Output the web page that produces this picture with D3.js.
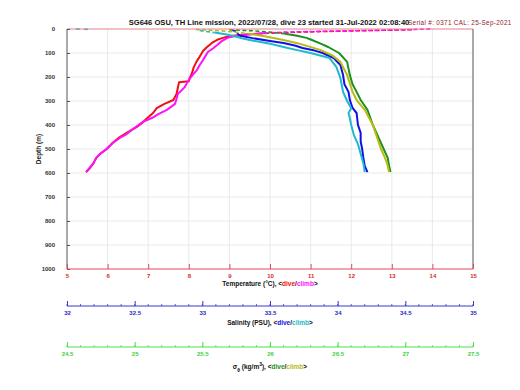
<!DOCTYPE html>
<html><head><meta charset="utf-8">
<script src="https://cdn.jsdelivr.net/npm/d3@7"></script>
<style>body{margin:0;background:#fff}svg{display:block}text{font-family:"Liberation Sans",Arial,sans-serif}</style>
</head><body><svg id="c" width="520" height="390"></svg>
<script>
// ---- data ----
const titleText = "SG646 OSU, TH Line mission, 2022/07/28, dive 23 started 31-Jul-2022 02:08:40";
const serialText = "Serial #: 0371  CAL: 25-Sep-2021";
const depthTicks = [0,100,200,300,400,500,600,700,800,900,1000];
const tempTicks = [5,6,7,8,9,10,11,12,13,14,15];
const salTicks = [32,32.5,33,33.5,34,34.5,35];
const sigTicks = [24.5,25,25.5,26,26.5,27,27.5];

const tempDiveDepth = [3,6,10,14,19,24,29,34,39,45,58,75,92,115,133,160,183,205,218,222,245,270,296,312,330,350,368,390,408,430,454,475,500,520,537,560,580,596];
const tempDive = [13.5,12.6,11.4,10.5,9.8,9.3,9.05,8.9,8.8,8.7,8.57,8.45,8.35,8.27,8.2,8.12,8.08,8.02,8.0,7.76,7.73,7.7,7.62,7.4,7.21,7.12,7.0,6.86,6.72,6.5,6.27,6.12,5.98,5.82,5.72,5.65,5.56,5.47];
const tempClimbDepth = [0,3,5,7,9,11,13,17,22,28,34,40,52,67,80,96,115,129,150,171,190,212,242,271,290,312,337,355,371,387,405,420,440,454,475,500,520,537,560,580,596];
const tempClimb = [13.95,13.3,12.8,12.2,11.55,10.9,10.3,9.9,9.5,9.2,9.0,8.92,8.8,8.7,8.6,8.47,8.4,8.35,8.27,8.2,8.1,8.0,7.9,7.73,7.7,7.66,7.46,7.25,7.09,6.87,6.72,6.6,6.45,6.3,6.13,5.97,5.82,5.72,5.65,5.55,5.47];

const salDiveDepth = [5,12,20,28,38,50,58,70,79,90,100,121,150,192,230,262,296,329,350,400,433,470,496,537,570,596];
const salDive = [33.22,33.26,33.26,33.28,33.37,33.50,33.60,33.69,33.74,33.83,33.89,33.97,34.02,34.04,34.05,34.08,34.09,34.11,34.14,34.15,34.17,34.17,34.18,34.19,34.20,34.22];
const salClimbDepth = [6,10,15,22,30,40,46,60,75,88,100,121,158,204,262,300,330,350,371,400,442,480,520,560,596];
const salClimb = [32.98,33.02,33.09,33.17,33.24,33.30,33.35,33.49,33.60,33.70,33.80,33.94,33.99,34.02,34.04,34.07,34.10,34.08,34.09,34.10,34.12,34.15,34.17,34.19,34.20];
const salSurfaceDepth = [1,2];
const salSurface = [32.08,32.14];

const sigDiveDepth = [3,8,14,20,28,37,46,60,75,100,137,165,192,230,262,296,337,400,450,500,537,570,596];
const sigDive = [25.70,25.89,26.02,26.11,26.20,26.27,26.31,26.37,26.43,26.51,26.57,26.58,26.59,26.61,26.64,26.67,26.72,26.76,26.80,26.84,26.87,26.88,26.89];
const sigClimbDepth = [2,6,12,20,30,46,60,87,110,137,192,262,296,337,400,450,500,537,570,596];
const sigClimb = [25.45,25.60,25.73,25.85,25.96,26.10,26.21,26.37,26.46,26.52,26.57,26.61,26.64,26.70,26.76,26.79,26.82,26.85,26.87,26.88];

// ---- layout ----
const svg = d3.select("#c");
const L = 67, R = 473, T = 29, B = 269;
const y = d3.scaleLinear().domain([0,1000]).range([T,B]);
const xT = d3.scaleLinear().domain([5,15]).range([L,R]);
const xS = d3.scaleLinear().domain([32,35]).range([L,R]);
const xG = d3.scaleLinear().domain([24.5,27.5]).range([L,R]);
const SURF = 15; // near-surface samples drawn as sparse dashes

const FONT = 6;
// grid
svg.append("g").selectAll("line").data(tempTicks.slice(1,-1)).join("line")
  .attr("x1",d=>xT(d)).attr("x2",d=>xT(d)).attr("y1",T).attr("y2",B)
  .attr("stroke","#e4e4e4").attr("stroke-width",0.8);
svg.append("g").selectAll("line").data(depthTicks.slice(1,-1)).join("line")
  .attr("x1",L).attr("x2",R).attr("y1",d=>y(d)).attr("y2",d=>y(d))
  .attr("stroke","#e4e4e4").attr("stroke-width",0.8);

// traces
function trace(xs, depths, vals, color){
  const pts = depths.map((d,i)=>[xs(vals[i]), y(d), d]);
  const k = pts.findIndex(p=>p[2]>=SURF);
  const top = pts.slice(0, k+1), deep = pts.slice(Math.max(k,0));
  const line = d3.line().x(p=>p[0]).y(p=>p[1]);
  if(top.length>1) svg.append("path").attr("d", line(top)).attr("fill","none")
    .attr("stroke",color).attr("stroke-width",1.6).attr("stroke-dasharray","4,2.5");
  svg.append("path").attr("d", line(deep)).attr("fill","none")
    .attr("stroke",color).attr("stroke-width",2).attr("stroke-linejoin","round");
}
trace(xT, tempDiveDepth, tempDive, "#f01010");
trace(xT, tempClimbDepth, tempClimb, "#ff10ff");
trace(xS, salDiveDepth, salDive, "#1010e8");
trace(xS, salClimbDepth, salClimb, "#20b8cc");
trace(xG, sigDiveDepth, sigDive, "#1f8f1f");
trace(xG, sigClimbDepth, sigClimb, "#b8bc10");
svg.append("g").selectAll("rect").data(salSurface).join("rect")
  .attr("x",d=>xS(d)-2).attr("y",(d,i)=>y(salSurfaceDepth[i])-1).attr("width",4).attr("height",1.6)
  .attr("fill","#20b8cc");

// frame
svg.append("line").attr("x1",L).attr("x2",R).attr("y1",T).attr("y2",T).attr("stroke","#e88090").attr("stroke-width",1);
svg.append("line").attr("x1",L).attr("x2",L).attr("y1",T).attr("y2",B).attr("stroke","#555").attr("stroke-width",1);
svg.append("line").attr("x1",R).attr("x2",R).attr("y1",T).attr("y2",B).attr("stroke","#555").attr("stroke-width",1);

// depth axis
const gy = svg.append("g").attr("transform",`translate(${L},0)`)
  .call(d3.axisRight(y).tickValues(depthTicks).tickSize(3).tickFormat(d3.format("d")));
gy.select(".domain").remove();
gy.selectAll(".tick line").attr("stroke","#555");
gy.selectAll(".tick text").attr("x",-12).attr("text-anchor","end").attr("font-size",FONT).attr("font-weight","bold").attr("fill","#333").attr("font-family","Liberation Sans, Arial");
svg.append("text").attr("transform",`translate(41,${(T+B)/2}) rotate(-90)`).attr("text-anchor","middle")
  .attr("font-size",6.5).attr("font-weight","bold").attr("fill","#222").text("Depth (m)");

// horizontal axis helper
function hAxis(scale, yy, ticks, minorStep, color, lblColor, fmt){
  const g = svg.append("g").attr("transform",`translate(0,${yy})`);
  g.append("line").attr("x1",L).attr("x2",R).attr("stroke",color).attr("stroke-width",1);
  if(minorStep){
    const minors = d3.range(scale.domain()[0], scale.domain()[1]+1e-9, minorStep);
    g.selectAll("line.mn").data(minors).join("line").attr("class","mn")
      .attr("x1",d=>scale(d)).attr("x2",d=>scale(d)).attr("y1",0).attr("y2",-2).attr("stroke",color).attr("stroke-width",0.8);
  }
  const ax = d3.axisTop(scale).tickValues(ticks).tickSize(5).tickFormat(fmt);
  const a = g.append("g").call(ax);
  a.select(".domain").remove();
  a.selectAll(".tick line").attr("stroke",color);
  a.selectAll(".tick text").attr("y",8.5).attr("dy",0).attr("font-size",FONT).attr("font-weight","bold")
    .attr("fill",lblColor).attr("font-family","Liberation Sans, Arial");
  return g;
}
hAxis(xT, B, tempTicks, null, "#e04860", "#d82828", d3.format("d"));
hAxis(xS, 306, salTicks, 0.1, "#3838d0", "#2828c8", d=>String(d));
hAxis(xG, 347, sigTicks, 0.1, "#48e048", "#40d040", d=>String(d));

function label(x, yy, parts){
  const t = svg.append("text").attr("x",x).attr("y",yy).attr("text-anchor","middle")
    .attr("font-size",6.5).attr("font-weight","bold");
  parts.forEach(p=>{
    const s = t.append("tspan").attr("fill",p[1]).text(p[0]);
    if(p[2]) s.attr("baseline-shift",p[2]).attr("font-size",5);
  });
}
label(270, 286, [["Temperature (°C), <","#111"],["dive","#f01010"],["/","#111"],["climb","#ff10ff"],[">","#111"]]);
label(270, 325, [["Salinity (PSU), <","#111"],["dive","#1010e8"],["/","#111"],["climb","#20b8cc"],[">","#111"]]);
label(270, 369, [["σ","#111"],["θ","#111","sub"],[" (kg/m","#111"],["3","#111","super"],["), <","#111"],["dive","#1f8f1f"],["/","#111"],["climb","#b8bc10"],[">","#111"]]);

// title
svg.append("text").attr("x",269).attr("y",25).attr("text-anchor","middle").attr("font-size",7.6)
  .attr("font-weight","bold").attr("fill","#111").text(titleText);
svg.append("text").attr("x",408).attr("y",25).attr("font-size",6.3).attr("letter-spacing",0.35).attr("fill","#8e2222").text(serialText);
</script></body></html>
